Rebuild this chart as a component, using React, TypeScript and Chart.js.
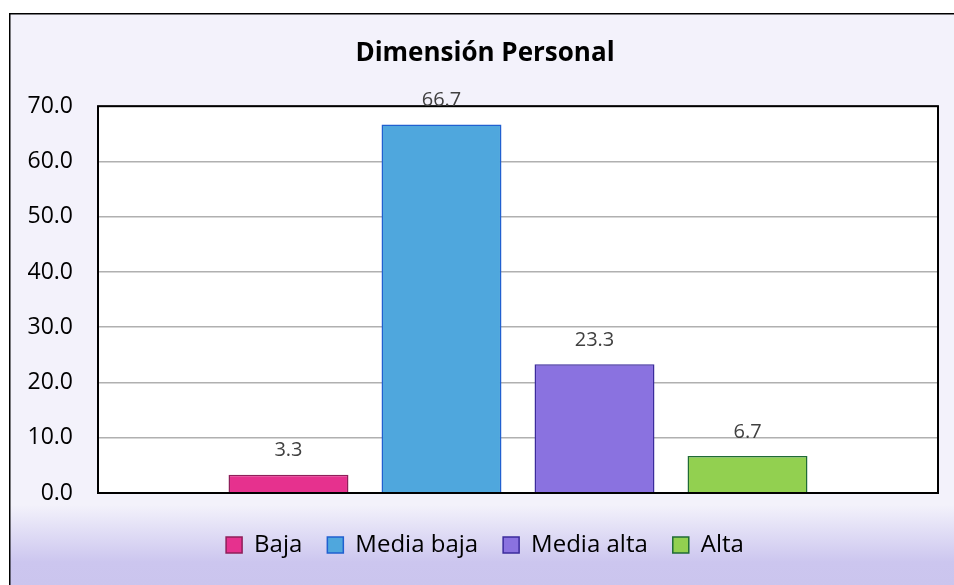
import React, { useEffect, useRef } from "react";
import { Chart, registerables } from "chart.js";

Chart.register(...registerables);

const categories = [""];
const seriesNames = ["Baja", "Media baja", "Media alta", "Alta"];
const seriesValues = [3.3, 66.7, 23.3, 6.7];
const fillColors = ["#e6318e", "#4fa7dd", "#8a72e0", "#92d050"];
const borderColors = ["#8e1f5a", "#2060d0", "#3b2b9c", "#1f6b35"];
const yMin = 0;
const yMax = 70;
const yStep = 10;
const titleText = "Dimensión Personal";

const W = 970;
const H = 585;

const framePlugin = {
  id: "frame",
  beforeDraw(chart: any) {
    const { ctx, width, height, chartArea: a } = chart;
    ctx.save();
    ctx.fillStyle = "#ffffff";
    ctx.fillRect(0, 0, width, height);
    const g = ctx.createLinearGradient(0, 13, 0, height);
    g.addColorStop(0, "#f3f2fb");
    g.addColorStop(0.86, "#f3f2fb");
    g.addColorStop(0.96, "#ccc6ef");
    g.addColorStop(1, "#cbc5ee");
    ctx.fillStyle = g;
    ctx.fillRect(9, 13, width, height);
    ctx.strokeStyle = "#000";
    ctx.lineWidth = 1.5;
    ctx.beginPath();
    ctx.moveTo(9.75, height);
    ctx.lineTo(9.75, 13.75);
    ctx.lineTo(width, 13.75);
    ctx.stroke();
    ctx.fillStyle = "#ffffff";
    ctx.fillRect(a.left, a.top, a.right - a.left, a.bottom - a.top);
    ctx.restore();
  },
  afterDatasetsDraw(chart: any) {
    const { ctx, chartArea: a } = chart;
    ctx.save();
    ctx.strokeStyle = "#000";
    ctx.lineWidth = 2;
    ctx.strokeRect(a.left, a.top, a.right - a.left, a.bottom - a.top);
    ctx.fillStyle = "#404040";
    ctx.font = "20px 'Open Sans'";
    ctx.textAlign = "center";
    ctx.textBaseline = "middle";
    chart.data.datasets.forEach((ds: any, i: number) => {
      const meta = chart.getDatasetMeta(i);
      meta.data.forEach((el: any, j: number) => {
        const v = ds.data[j];
        ctx.fillText(Number(v).toFixed(1), el.x, el.y - 24);
      });
    });
    ctx.restore();
  },
};

export default function App() {
  const ref = useRef<HTMLCanvasElement>(null);
  useEffect(() => {
    if (!ref.current) return;
    Chart.defaults.font.family = "'Open Sans'";
    const chart = new Chart(ref.current, {
      type: "bar",
      data: {
        labels: categories,
        datasets: seriesNames.map((name, i) => ({
          label: name,
          data: [seriesValues[i]],
          backgroundColor: fillColors[i],
          borderColor: borderColors[i],
          borderWidth: 1.5,
          categoryPercentage: 0.7286,
          barPercentage: 0.784,
        })),
      },
      options: {
        animation: false,
        responsive: false,
        devicePixelRatio: 1,
        layout: { padding: { top: 38, bottom: 18, left: 0, right: 0 } },
        plugins: {
          title: {
            display: true,
            text: titleText,
            color: "#000",
            font: { size: 26, weight: "bold", family: "'Open Sans'" },
            padding: { top: 0, bottom: 37 },
          },
          legend: {
            position: "bottom",
            labels: {
              color: "#000",
              font: { size: 24, family: "'Open Sans'" },
              boxWidth: 16,
              boxHeight: 16,
              padding: 25,
            },
          },
          tooltip: { enabled: false },
        },
        scales: {
          x: {
            type: "category",
            offset: true,
            grid: { display: false },
            border: { display: false },
            ticks: { display: false },
            afterFit: (s: any) => {
              s.height = 15;
            },
          },
          y: {
            min: yMin,
            max: yMax,
            grid: { color: "#b0b0b0", lineWidth: 1.5, drawTicks: false },
            border: { display: false },
            ticks: {
              stepSize: yStep,
              padding: 25,
              color: "#000",
              font: { size: 23, family: "'Open Sans'" },
              callback: (v: any) => Number(v).toFixed(1),
            },
            afterFit: (s: any) => {
              s.width = 98;
            },
          },
          y2: {
            type: "linear",
            position: "right",
            display: true,
            grid: { display: false },
            border: { display: false },
            ticks: { display: false },
            afterFit: (s: any) => {
              s.width = 32;
            },
          },
        },
      } as any,
      plugins: [framePlugin],
    });
    return () => chart.destroy();
  }, []);
  return (
    <div
      style={{
        position: "fixed",
        left: 0,
        top: 0,
        width: 954,
        height: 585,
        overflow: "hidden",
      }}
    >
      <canvas ref={ref} width={W} height={H} style={{ display: "block", width: W, height: H }} />
    </div>
  );
}
